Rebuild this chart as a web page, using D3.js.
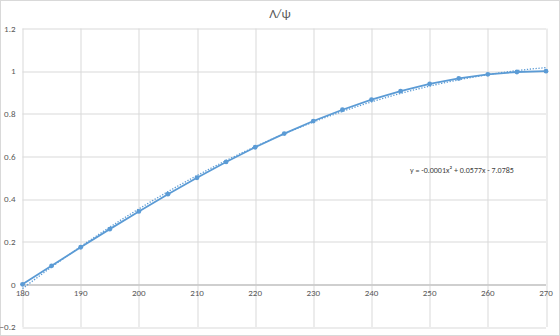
<!DOCTYPE html>
<html>
<head>
<meta charset="utf-8">
<script src="https://cdn.jsdelivr.net/npm/d3@7"></script>
<style>
  body { margin: 0; background: #fff; }
  text { font-family: Calibri, Carlito, "Open Sans", sans-serif; }
</style>
</head>
<body>
<div id="chart"></div>
<script>
// data
var angles = [180, 185, 190, 195, 200, 205, 210, 215, 220, 225, 230, 235, 240, 245, 250, 255, 260, 265, 270];
var ratios = [0, 0.087, 0.174, 0.259, 0.342, 0.423, 0.5, 0.574, 0.643, 0.707, 0.766, 0.819, 0.866, 0.906, 0.940, 0.966, 0.985, 0.996, 1.0];
var xTicks = [180, 190, 200, 210, 220, 230, 240, 250, 260, 270];
var yTicks = [-0.2, 0, 0.2, 0.4, 0.6, 0.8, 1, 1.2];
var title = "Λ/ψ";
var equation = "y = -0.0001x² + 0.0577x - 7.0785";

var svgWidth = 560;
var svgHeight = 336;
var margin = { top: 28.5, right: 14, bottom: 9, left: 22.5 };
var width = svgWidth - margin.left - margin.right;
var height = svgHeight - margin.top - margin.bottom;
var blue = "#5b9bd5";

var svg = d3.select("#chart").append("svg")
  .attr("width", svgWidth)
  .attr("height", svgHeight);

svg.append("rect")
  .attr("x", 0.5).attr("y", 0.5)
  .attr("width", svgWidth - 1).attr("height", svgHeight - 1)
  .attr("fill", "#fff").attr("stroke", "#d9d9d9");

var g = svg.append("g").attr("transform", `translate(${margin.left}, ${margin.top})`);

var x = d3.scaleLinear().domain([180, 270]).range([0, width]);
var y = d3.scaleLinear().domain([-0.2, 1.2]).range([height, 0]);

// gridlines
g.selectAll(".hgrid").data(yTicks).enter().append("line")
  .attr("x1", 0).attr("x2", width)
  .attr("y1", d => Math.round(y(d)) + 0.5).attr("y2", d => Math.round(y(d)) + 0.5)
  .attr("stroke", d => d === 0 ? "#bfbfbf" : "#d9d9d9");

g.selectAll(".vgrid").data(xTicks).enter().append("line")
  .attr("x1", d => Math.round(x(d)) + 0.5).attr("x2", d => Math.round(x(d)) + 0.5)
  .attr("y1", 0).attr("y2", height)
  .attr("stroke", "#d9d9d9");

// redraw zero line on top of vertical grid
g.append("line")
  .attr("x1", 0).attr("x2", width)
  .attr("y1", Math.round(y(0)) + 0.5).attr("y2", Math.round(y(0)) + 0.5)
  .attr("stroke", "#bfbfbf");

// axis labels
g.selectAll(".ylab").data(yTicks).enter().append("text")
  .attr("x", -7).attr("y", d => y(d))
  .attr("dy", "0.35em")
  .attr("text-anchor", "end")
  .attr("font-size", "9px")
  .attr("fill", "#595959")
  .text(d => d3.format("")(d));

g.selectAll(".xlab").data(xTicks).enter().append("text")
  .attr("x", d => x(d)).attr("y", y(0) + 12)
  .attr("text-anchor", "middle")
  .attr("font-size", "9px")
  .attr("fill", "#595959")
  .text(d => d);

// quadratic least-squares trendline from the data
function quadFit(xs, ys) {
  var n = xs.length, s = [0, 0, 0, 0, 0], t = [0, 0, 0];
  xs.forEach(function(xv, i) {
    var p = 1;
    for (var k = 0; k < 5; k++) { s[k] += p; if (k < 3) t[k] += p * ys[i]; p *= xv; }
  });
  var A = [[s[0], s[1], s[2], t[0]], [s[1], s[2], s[3], t[1]], [s[2], s[3], s[4], t[2]]];
  for (var c = 0; c < 3; c++) {
    for (var r = c + 1; r < 3; r++) {
      var f = A[r][c] / A[c][c];
      for (var k2 = c; k2 < 4; k2++) A[r][k2] -= f * A[c][k2];
    }
  }
  var coef = [0, 0, 0];
  for (var r2 = 2; r2 >= 0; r2--) {
    var sum = A[r2][3];
    for (var k3 = r2 + 1; k3 < 3; k3++) sum -= A[r2][k3] * coef[k3];
    coef[r2] = sum / A[r2][r2];
  }
  return coef;
}
var cf = quadFit(angles.map(d => d - 180), ratios);
var trendX = d3.range(180, 270.01, 1);
var trend = trendX.map(d => ({ x: d, y: cf[0] + cf[1] * (d - 180) + cf[2] * (d - 180) * (d - 180) }));

g.append("path")
  .datum(trend)
  .attr("fill", "none")
  .attr("stroke", blue)
  .attr("stroke-width", 1.3)
  .attr("stroke-dasharray", "1.3,1.6")
  .attr("d", d3.line().x(d => x(d.x)).y(d => y(d.y)));

var data = angles.map((a, i) => ({ x: a, y: ratios[i] }));

g.append("path")
  .datum(data)
  .attr("fill", "none")
  .attr("stroke", blue)
  .attr("stroke-width", 1.8)
  .attr("d", d3.line().x(d => x(d.x)).y(d => y(d.y)));

g.selectAll(".pt").data(data).enter().append("circle")
  .attr("cx", d => x(d.x)).attr("cy", d => y(d.y))
  .attr("r", 2.4)
  .attr("fill", blue);

// title and equation
svg.append("text")
  .attr("x", 280).attr("y", 18)
  .attr("text-anchor", "middle")
  .attr("font-size", "13px")
  .attr("fill", "#595959")
  .text(title);

svg.append("text")
  .attr("x", 410).attr("y", 173)
  .attr("font-size", "8px")
  .attr("fill", "#404040")
  .text(equation);
</script>
</body>
</html>
